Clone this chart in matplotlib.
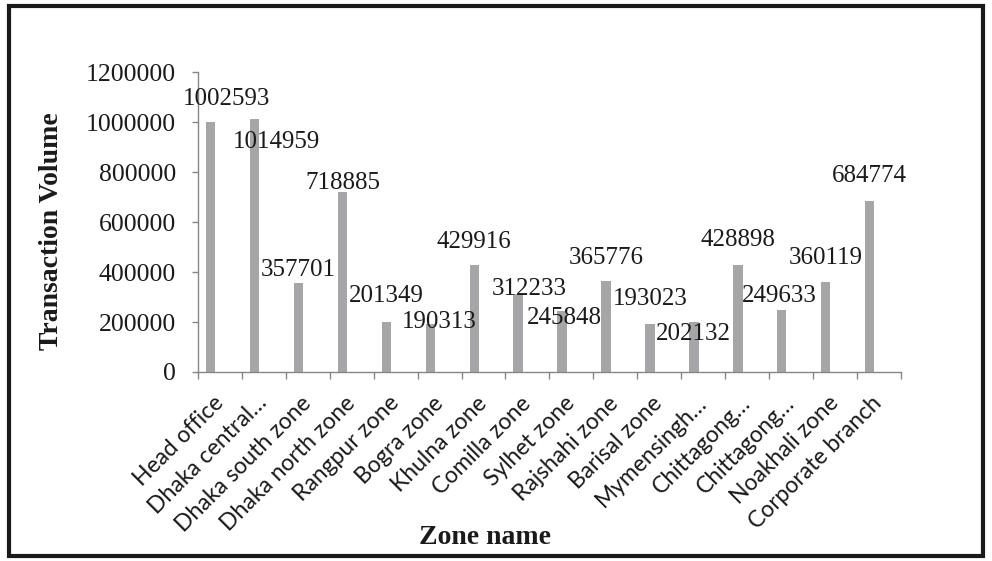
import matplotlib.pyplot as plt
import matplotlib.patches as patches
import numpy as np

zones = [
    'Head office', 'Dhaka central…', 'Dhaka south zone', 'Dhaka north zone',
    'Rangpur zone', 'Bogra zone', 'Khulna zone', 'Comilla zone',
    'Sylhet zone', 'Rajshahi zone', 'Barisal zone', 'Mymensingh…',
    'Chittagong…', 'Chittagong…', 'Noakhali zone', 'Corporate branch',
]
volumes = [
    1002593, 1014959, 357701, 718885, 201349, 190313, 429916, 312233,
    245848, 365776, 193023, 202132, 428898, 249633, 360119, 684774,
]
y_ticks = [0, 200000, 400000, 600000, 800000, 1000000, 1200000]

# where the value labels sit (they were hand placed in the original)
label_dx = [0.35, 0.5, 0, 0, 0, 0.2, 0, 0.25, 0.05, 0, 0, 0, 0, -0.05, 0, 0]
label_y = [
    1069000, 897000, 383000, 733000, 279000, 177000, 497000, 308000,
    193000, 431000, 267000, 127000, 503000, 279000, 431000, 759000,
]


def transaction_chart():
    fig = plt.figure(figsize=(9.92, 5.61), dpi=100)
    ax = fig.add_axes([0.1996, 0.3369, 0.7084, 0.5342])

    x = np.arange(len(zones))
    bar_x = x - 0.21
    ax.bar(bar_x, volumes, width=0.216, color='#a6a6a8', zorder=2)

    for i, v in enumerate(volumes):
        ax.text(bar_x[i] + label_dx[i], label_y[i], str(v),
                ha='center', va='baseline', fontsize=18,
                family='Liberation Serif', color='#1a1a1a', zorder=3)

    ax.set_xlim(-0.5, len(zones) - 0.5)
    ax.set_ylim(0, 1200000)

    ax.set_yticks(y_ticks)
    ax.set_yticklabels([str(t) for t in y_ticks],
                       family='Liberation Serif', fontsize=18.5)
    ax.tick_params(axis='y', direction='out', length=4.3, width=1,
                   color='#868686', pad=11.5, labelcolor='#1a1a1a')

    ax.set_xticks(x)
    ax.set_xticklabels(zones, rotation=45, ha='right',
                       rotation_mode='anchor', va='center',
                       family='Lato', fontsize=16.5)
    ax.tick_params(axis='x', which='major', length=0, pad=20,
                   labelcolor='#1a1a1a')
    ax.set_xticks(np.arange(-0.5, len(zones)), minor=True)
    ax.tick_params(axis='x', which='minor', direction='out', length=5,
                   width=1, color='#868686')

    for side in ['top', 'right']:
        ax.spines[side].set_visible(False)
    for side in ['left', 'bottom']:
        ax.spines[side].set_color('#868686')
        ax.spines[side].set_linewidth(1)

    fig.text(0.052, 0.5873, 'Transaction Volume', rotation=90,
             ha='center', va='center', fontsize=20, fontweight='bold',
             family='Liberation Serif', color='#1a1a1a')
    fig.text(0.489, 0.0303, 'Zone name', ha='center', va='baseline',
             fontsize=20, fontweight='bold', family='Liberation Serif',
             color='#1a1a1a')

    # black frame round the whole chart
    frame = patches.Rectangle((9 / 992, 1 - 556 / 561),
                              (983 - 9) / 992, (556 - 6) / 561,
                              transform=fig.transFigure, fill=False,
                              edgecolor='#1a1a1a', linewidth=3)
    fig.patches.append(frame)

    fig.savefig('out.png', dpi=100)


def main():
    transaction_chart()


if __name__ == "__main__":
    try:
        main()
    except Exception as e:
        print(f"{e.__class__.__name__}: {e}")
